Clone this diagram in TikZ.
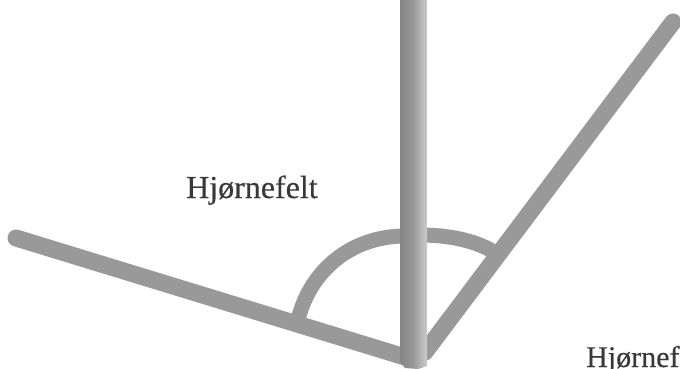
\documentclass[tikz,border=0pt]{standalone}
\usepackage{fontspec}
\newfontfamily\lblfont{Liberation Serif}[FakeBold=0.35]
\definecolor{bar}{gray}{0.60}
\definecolor{bard}{gray}{0.52}
\definecolor{barl}{gray}{0.80}
\definecolor{txt}{gray}{0.22}
\tikzset{
  barline/.style={draw=bar,line width=17pt,line cap=round},
  arcline/.style={draw=bar,line width=15pt,line cap=butt},
  lbl/.style={text=txt,anchor=base west,inner sep=0pt}
}
\begin{document}
\begin{tikzpicture}[x=1pt,y=-1pt]
\useasboundingbox (0,0) rectangle (680,369);
\fill[white] (0,0) rectangle (680,369);
\coordinate (corner) at (405,357);
\coordinate (leftend) at (16,238);
\coordinate (rightbase) at (425,352);
\coordinate (rightend) at (673,22);
\coordinate (arcL) at (298,320);
\coordinate (arcR) at (497,254);
\draw[barline] (leftend) -- (corner);
\draw[barline] (rightbase) -- (rightend);
\draw[arcline] (arcL) .. controls (310,270) and (352,236) .. (405,236);
\draw[arcline] (420,235) .. controls (450,235) and (478,241) .. (arcR);
\shade[left color=bard,right color=barl,middle color=bar]
  (400,0) -- (427,0) -- (427,366) -- (418,369) -- (405,368) -- (400,362) -- cycle;
\node[lbl,font=\lblfont\fontsize{32}{36}\selectfont] (h1) at (186,198) {Hjørnefelt};
\node[lbl,font=\lblfont\fontsize{30}{36}\selectfont] (h2) at (586,367) {Hjørnef};
\end{tikzpicture}
\end{document}
